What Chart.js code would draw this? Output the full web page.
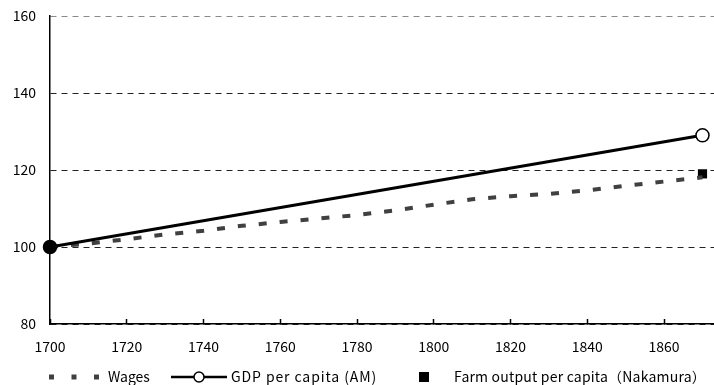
<!DOCTYPE html>
<html>
<head>
<meta charset="utf-8">
<script src="https://cdn.jsdelivr.net/npm/chart.js@4"></script>
<style>
  html, body { margin: 0; padding: 0; background: #fff; }
  #wrap { width: 714px; height: 385px; }
</style>
</head>
<body>
<div id="wrap"><canvas id="graphCanvas" width="714" height="385"></canvas></div>
<script>
// データ
const wageYears = [1700, 1710, 1720, 1730, 1740, 1750, 1760, 1770, 1780, 1790, 1800, 1810, 1820, 1830, 1840, 1850, 1860, 1870];
const wageValues = [100, 100.9, 102.0, 103.3, 104.2, 105.5, 106.5, 107.4, 108.3, 109.5, 111.0, 112.4, 113.2, 113.8, 114.7, 115.9, 117.0, 118.1];
const gdpYears = [1700, 1870];
const gdpValues = [100, 129];
const farmYears = [1700, 1870];
const farmValues = [100, 119];
const seriesNames = ["Wages", "GDP per capita (AM)", "Farm output per capita（Nakamura）"];
const yTicks = [80, 100, 120, 140, 160];
const xTicks = [1700, 1720, 1740, 1760, 1780, 1800, 1820, 1840, 1860];

const FONT = '"Noto Sans CJK JP", "Noto Sans", sans-serif';

function toPoints(xs, ys) {
    return xs.map((x, i) => ({ x: x, y: ys[i] }));
}

// 凡例を下に描く
const bottomLegend = {
    id: 'bottomLegend',
    afterDraw(chart) {
        const ctx = chart.ctx;
        const y = 377;
        ctx.save();
        ctx.font = '14px ' + FONT;
        ctx.fillStyle = '#000';
        ctx.textBaseline = 'middle';

        // Wages
        ctx.strokeStyle = '#404040';
        ctx.lineWidth = 5;
        ctx.setLineDash([5, 17.5]);
        ctx.beginPath();
        ctx.moveTo(49, y);
        ctx.lineTo(100, y);
        ctx.stroke();
        ctx.setLineDash([]);
        ctx.fillText(seriesNames[0], 108, y);

        // GDP
        ctx.strokeStyle = '#000';
        ctx.lineWidth = 2.5;
        ctx.beginPath();
        ctx.moveTo(171, y);
        ctx.lineTo(227, y);
        ctx.stroke();
        ctx.beginPath();
        ctx.arc(199, y, 5, 0, Math.PI * 2);
        ctx.fillStyle = '#fff';
        ctx.fill();
        ctx.lineWidth = 1.5;
        ctx.stroke();
        ctx.fillStyle = '#000';
        ctx.letterSpacing = '0.9px';
        ctx.fillText(seriesNames[1], 231, y);

        // Farm output
        ctx.fillRect(419, y - 5, 10, 10);
        ctx.letterSpacing = '0.2px';
        ctx.fillText(seriesNames[2], 454, y);
        ctx.restore();
    }
};

const ctx = document.getElementById('graphCanvas').getContext('2d');
new Chart(ctx, {
    type: 'line',
    data: {
        datasets: [
            {
                label: seriesNames[2],
                data: toPoints(farmYears, farmValues),
                showLine: false,
                pointStyle: 'rect',
                pointRadius: 6.5,
                pointBackgroundColor: '#000',
                pointBorderColor: '#000',
                pointBorderWidth: 0,
                clip: false,
                order: 3
            },
            {
                label: seriesNames[0],
                data: toPoints(wageYears, wageValues),
                borderColor: '#404040',
                borderWidth: 4,
                borderDash: [8, 13],
                borderCapStyle: 'butt',
                pointRadius: 0,
                fill: false,
                tension: 0,
                clip: false,
                order: 2
            },
            {
                label: seriesNames[1],
                data: toPoints(gdpYears, gdpValues),
                borderColor: '#000',
                borderWidth: 3,
                pointStyle: 'circle',
                pointRadius: 6.5,
                pointBorderWidth: 1.5,
                pointBorderColor: '#000',
                pointBackgroundColor: ['#000', '#fff'],
                fill: false,
                clip: false,
                order: 1
            }
        ]
    },
    options: {
        responsive: false,
        animation: false,
        layout: { autoPadding: false, padding: { left: 0, right: 0, top: 16, bottom: 0 } },
        plugins: {
            legend: { display: false },
            tooltip: { enabled: false }
        },
        scales: {
            x: {
                type: 'linear',
                min: 1700,
                max: 1873,
                afterBuildTicks: (scale) => { scale.ticks = xTicks.map(v => ({ value: v })); },
                afterFit: (scale) => {
                    scale.height = 61;
                    scale.paddingLeft = 0;
                    scale.paddingRight = 0;
                },
                grid: {
                    drawOnChartArea: false,
                    drawTicks: true,
                    tickLength: -5,
                    tickColor: '#000',
                    tickWidth: 1.5
                },
                border: { color: '#000', width: 1.5 },
                ticks: {
                    color: '#000',
                    padding: 19,
                    maxRotation: 0,
                    autoSkip: false,
                    font: { family: FONT, size: 14 },
                    callback: (v) => String(v)
                }
            },
            y: {
                min: 80,
                max: 160,
                afterBuildTicks: (scale) => { scale.ticks = yTicks.map(v => ({ value: v })); },
                afterFit: (scale) => {
                    scale.width = 50;
                    scale.paddingTop = 0;
                    scale.paddingBottom = 0;
                },
                grid: {
                    drawTicks: false,
                    color: (c) => (c.tick && c.tick.value === 160 ? '#8a8a8a' : '#222'),
                    lineWidth: 1
                },
                border: { color: '#000', width: 1.5, dash: [6, 5] },
                ticks: {
                    color: '#000',
                    padding: 14,
                    font: { family: FONT, size: 14 }
                }
            }
        }
    },
    plugins: [bottomLegend]
});
</script>
</body>
</html>
